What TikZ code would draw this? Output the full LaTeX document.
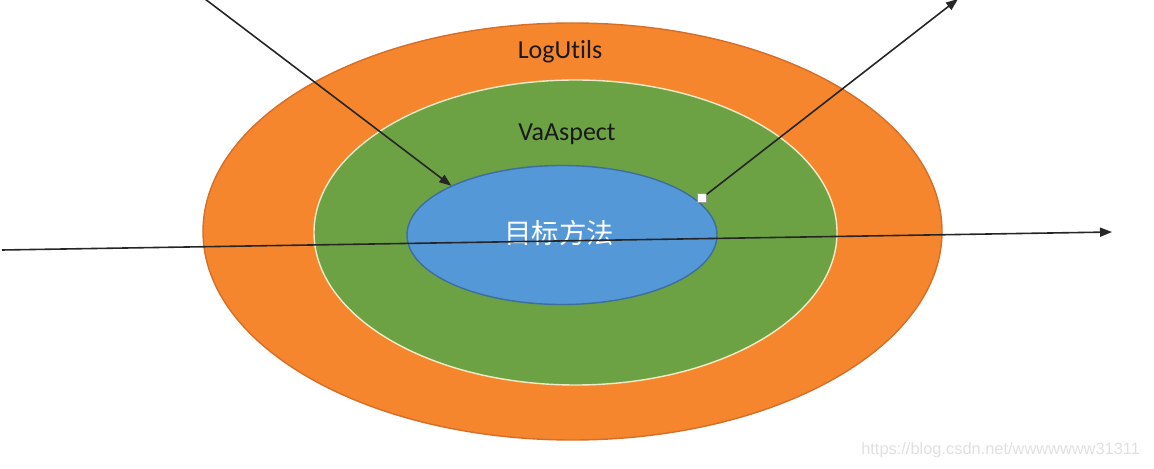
\documentclass[tikz,border=0pt]{standalone}
\usepackage{fontspec}
\setmainfont{Carlito}[Ligatures=NoCommon]
\newfontfamily\cjk{Noto Sans CJK SC}
\newfontfamily\markfont{Liberation Sans}
\usetikzlibrary{shapes.geometric,arrows.meta}
\definecolor{ringorange}{RGB}{246,134,46}
\definecolor{ringorangeline}{RGB}{214,110,40}
\definecolor{ringgreen}{RGB}{108,162,68}
\definecolor{ringgreenline}{RGB}{238,236,200}
\definecolor{coreblue}{RGB}{84,152,216}
\definecolor{corebluelline}{RGB}{60,110,160}

\begin{document}
\begin{tikzpicture}[x=0.5pt,y=-0.5pt,
  ring/.style={ellipse,inner sep=0pt,line width=0.7pt},
  ray/.style={line width=0.8pt,draw=black!85,-{Triangle[length=6pt,width=4.5pt]}},
  label/.style={text=black!90,font=\fontsize{13}{15}\selectfont}]
  \useasboundingbox (0,0) rectangle (1154,469);
  % rings
  \node[ring,fill=ringorange,draw=ringorangeline,minimum width=369.5pt,minimum height=208.5pt] (logring) at (572.5,231.5) {};
  \node[ring,fill=ringgreen,draw=ringgreenline,minimum width=261.5pt,minimum height=152.5pt] (aspectring) at (575.5,232.5) {};
  \node[ring,fill=coreblue,draw=corebluelline,minimum width=155pt,minimum height=69.5pt] (target) at (562,235) {};
  \node[label] (logutils) at (560,52) {LogUtils};
  \node[label] (vaaspect) at (567,134) {VaAspect};
  \node[text=white,font=\cjk\fontsize{13.7}{15}\selectfont] (method) at (559,233) {目标方法};
  % calls
  \coordinate (callin) at (205,-1);
  \draw[ray] (callin) -- (target.156);
  \node[draw=black!40,fill=white,line width=0.3pt,inner sep=0pt,minimum size=4.5pt] (exit) at (702,198) {};
  \coordinate (callout) at (958,-1);
  \draw[ray] (exit) -- (callout);
  \coordinate (west) at (2,250);
  \coordinate (east) at (1112,232);
  \draw[ray] (west) -- (east);
  \node[anchor=east,text=black!12,font=\markfont\fontsize{8.2}{10}\selectfont] (mark) at (1147,450) {https://blog.csdn.net/wwwwwww31311};
\end{tikzpicture}
\end{document}
